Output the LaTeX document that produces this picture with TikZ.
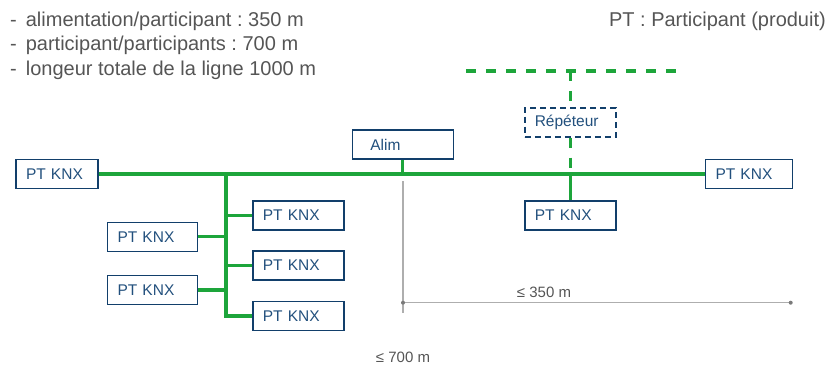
\documentclass[tikz,border=0pt]{standalone}
\usepackage{fontspec}
\setmainfont{Liberation Sans}
\definecolor{busgreen}{HTML}{1DA53B}
\definecolor{boxblue}{HTML}{123F6B}
\definecolor{txtblue}{HTML}{22507D}
\definecolor{txtgray}{HTML}{555555}
\definecolor{dimgray}{HTML}{AEAEAE}
\definecolor{dotgray}{HTML}{7A7A7A}
\frenchspacing
\begin{document}
\begin{tikzpicture}[x=1pt,y=-1pt,
 box/.style={draw=boxblue, line width=1.6pt, fill=white, text=txtblue,
   font=\fontsize{15.5}{18}\selectfont, minimum height=29pt,
   inner xsep=10pt, inner ysep=0pt, align=left},
 bus/.style={draw=busgreen, line width=3.3pt},
 dbus/.style={bus, dash pattern=on 10pt off 10pt},
 dimline/.style={draw=dimgray, line width=1.2pt},
 note/.style={text=txtgray, font=\fontsize{20}{23}\selectfont, anchor=base west, inner sep=0pt},
 lbl/.style={text=txtgray, font=\fontsize{15}{18}\selectfont, inner sep=0pt}]

\useasboundingbox (0,0) rectangle (830,369);

% notes
\node[note] (n1) at (10,27) {-\hspace{0.45em}alimentation/participant : 350 m};
\node[note] (n2) at (10,51) {-\hspace{0.45em}participant/participants : 700 m};
\node[note] (n3) at (10,75) {-\hspace{0.45em}longeur totale de la ligne 1000 m};
\node[note, anchor=base east] (n4) at (826,27) {PT : Participant (produit)};

% coordinates
\coordinate (jt) at (226,174);
\coordinate (rt) at (570.3,71);
\coordinate (dl) at (466,71);
\coordinate (dr) at (676,71);

\draw[dbus] (dl) -- (dr);

% boxes
\node[box, text width=62pt] (ptL) at (57,174) {PT KNX};
\node[box, text width=70pt] (c1) at (152.5,236.8) {PT KNX};
\node[box, text width=70pt] (c2) at (152.5,290) {PT KNX};
\node[box, text width=71pt] (r1) at (298.3,215.5) {PT KNX};
\node[box, text width=71pt] (r2) at (298.3,265.5) {PT KNX};
\node[box, text width=71pt] (r3) at (298.3,316) {PT KNX};
\node[box, inner xsep=18pt, text width=65pt] (alim) at (402.8,144.5) {Alim};
\node[box, dash pattern=on 6pt off 4pt, text width=71pt] (rep) at (570.3,122.2) {Répéteur};
\node[box, text width=71pt] (ptR) at (570.3,215.5) {PT KNX};
\node[box, text width=67pt] (ptE) at (749,174) {PT KNX};

% bus
\draw[bus] (ptL.east) -- (ptE.west);
\draw[bus] (jt) |- (r3.west);
\draw[bus] (r1.west) -- (r1.west -| jt);
\draw[bus] (r2.west) -- (r2.west -| jt);
\draw[bus] (c1.east) -- (c1.east -| jt);
\draw[bus] (c2.east) -- (c2.east -| jt);
\draw[bus] (alim.south) -- (alim.south |- jt);
\draw[dbus] (rt) -- (rep.north);
\draw[dbus] (rep.south) -- (rep.south |- jt);
\draw[bus] (rep.south |- jt) -- (ptR.north);

% dimensions
\coordinate (g0) at (403,181);
\coordinate (g1) at (403,313);
\coordinate (d0) at (403,302.7);
\coordinate (d1) at (790.7,302.7);
\draw[dimline] (g0) -- (g1);
\draw[dimline] (d0) -- (d1);
\fill[dotgray] (d0) circle (2pt) (d1) circle (2pt);
\node[lbl] (l350) at (544,292) {≤ 350 m};
\node[lbl] (l700) at (403,357) {≤ 700 m};
\end{tikzpicture}
\end{document}
